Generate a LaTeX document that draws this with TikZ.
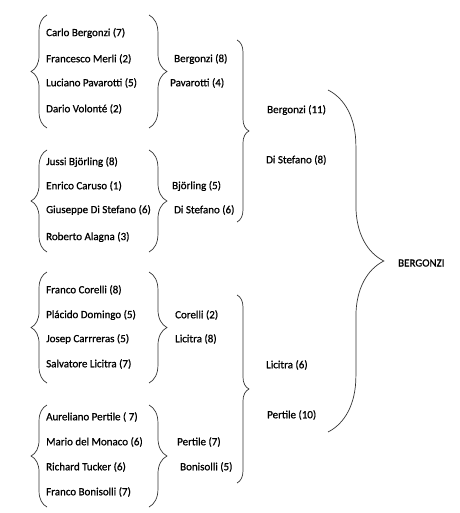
\documentclass[tikz,border=0pt]{standalone}
\usepackage{fontspec}
\setmainfont[FakeBold=0.8,AutoFakeBold=0.8]{Carlito}
\usetikzlibrary{decorations.pathreplacing}

\begin{document}
\begin{tikzpicture}[x=1bp, y=-1bp, inner sep=0pt, font=\fontsize{11}{13}\selectfont\bfseries,
  every node/.style={anchor=west},
  curly/.style={draw=black!80, line width=0.7pt, decorate, decoration={brace, amplitude=#1}}]
\useasboundingbox[fill=white] (0,0) rectangle (460,513);

% first round
\node (carlo) at (46,33) {Carlo Bergonzi (7)};
\node (merli) at (46,59) {Francesco Merli (2)};
\node (pavarotti) at (46,83) {Luciano Pavarotti (5)};
\node (volonte) at (46,109) {Dario Volonté (2)};

\node (bjorling) at (46,162) {Jussi Björling (8)};
\node (caruso) at (46,186) {Enrico Caruso (1)};
\node (distefano) at (46,210) {Giuseppe Di Stefano (6)};
\node (alagna) at (46,237) {Roberto Alagna (3)};

\node (corelli) at (46,290) {Franco Corelli (8)};
\node (domingo) at (46,315) {Plácido Domingo (5)};
\node (carreras) at (46,339) {Josep Carrreras (5)};
\node (licitra) at (46,364) {Salvatore Licitra (7)};

\node (pertile) at (46,417) {Aureliano Pertile ( 7)};
\node (monaco) at (46,442) {Mario del Monaco (6)};
\node (tucker) at (46,467) {Richard Tucker (6)};
\node (bonisolli) at (46,492) {Franco Bonisolli (7)};

% second round
\node (bergonzi2) at (174,59) {Bergonzi (8)};
\node (pavarotti2) at (170,83) {Pavarotti (4)};
\node (bjorling2) at (172,186) {Björling (5)};
\node (distefano2) at (174,210) {Di Stefano (6)};
\node (corelli2) at (175,315) {Corelli (2)};
\node (licitra2) at (175,339) {Licitra (8)};
\node (pertile2) at (177,442) {Pertile (7)};
\node (bonisolli2) at (180,467) {Bonisolli (5)};

% semifinal and final
\node (bergonzi3) at (267,110) {Bergonzi (11)};
\node (distefano3) at (266,160) {Di Stefano (8)};
\node (licitra3) at (266,365) {Licitra (6)};
\node (pertile3) at (267,415) {Pertile (10)};
\node (winner) at (398,263) {BERGONZI};

% braces
\draw[curly=16] (47,128) -- (47,15);
\draw[curly=16] (47,252) -- (47,150);
\draw[curly=16] (47,383) -- (47,272);
\draw[curly=16] (47,507) -- (47,405);

\draw[curly=18] (149,15) -- (149,128);
\draw[curly=18] (149,150) -- (149,252);
\draw[curly=18] (149,272) -- (149,383);
\draw[curly=18] (149,405) -- (149,507);

\draw[curly=12] (237,40) -- (237,222);
\draw[curly=12] (237,295) -- (237,483);

\draw[curly=56] (328,90) -- (328,432);
\end{tikzpicture}
\end{document}
